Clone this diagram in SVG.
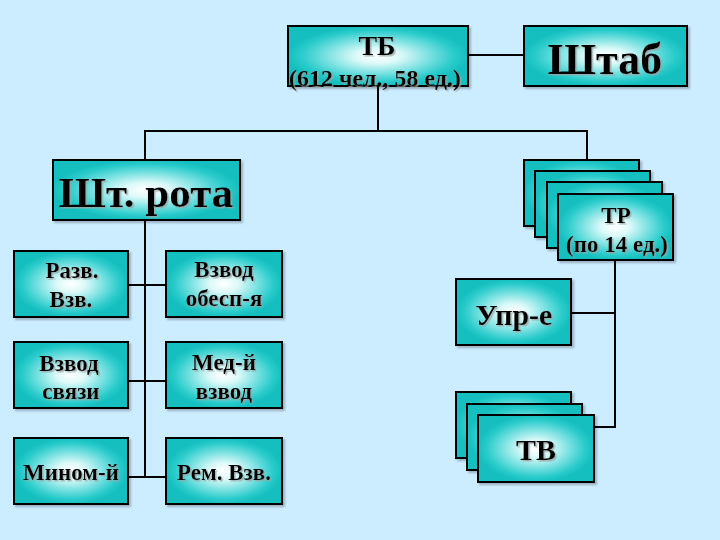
<svg xmlns="http://www.w3.org/2000/svg" width="720" height="540" viewBox="0 0 720 540">
<defs>
<radialGradient id="g" cx="0.5" cy="0.5" r="0.5">
<stop offset="0" stop-color="#FFFFFF"/>
<stop offset="0.25" stop-color="#DDF9F9"/>
<stop offset="0.6" stop-color="#72DFDF"/>
<stop offset="0.85" stop-color="#2ACBCB"/>
<stop offset="1" stop-color="#17BFBF"/>
</radialGradient>
<filter id="ts" x="-10%" y="-20%" width="130%" height="150%">
<feDropShadow dx="1.5" dy="1.5" stdDeviation="0" flood-color="#9aa6a6" flood-opacity="0.8"/>
</filter>
<filter id="bs" x="-5%" y="-5%" width="115%" height="120%">
<feDropShadow dx="2" dy="2" stdDeviation="1" flood-color="#000" flood-opacity="0.25"/>
</filter>
</defs>
<style>
.box{fill:url(#g);stroke:#000;stroke-width:2;filter:url(#bs)}
.t{font-family:"Liberation Serif","Times New Roman",serif;font-weight:bold;fill:#000;text-anchor:middle;filter:url(#ts)}
.s{font-size:23px}
.c{stroke:#000;stroke-width:2;fill:none}
</style>
<rect width="720" height="540" fill="#CCECFF"/>
<g id="connectors">
<line class="c" x1="468" y1="55" x2="524" y2="55"/>
<line class="c" x1="378" y1="86" x2="378" y2="131"/>
<line class="c" x1="144" y1="131" x2="588" y2="131"/>
<line class="c" x1="145" y1="131" x2="145" y2="160"/>
<line class="c" x1="587" y1="131" x2="587" y2="159"/>
<line class="c" x1="145" y1="220" x2="145" y2="478"/>
<line class="c" x1="128" y1="285" x2="166" y2="285"/>
<line class="c" x1="128" y1="381" x2="166" y2="381"/>
<line class="c" x1="128" y1="477" x2="166" y2="477"/>
<line class="c" x1="615" y1="260" x2="615" y2="428"/>
<line class="c" x1="571" y1="313" x2="615" y2="313"/>
<line class="c" x1="594" y1="427" x2="615" y2="427"/>
</g>
<g id="tb">
<rect class="box" x="288" y="26" width="180" height="60"/>
<text class="t" x="377" y="55" font-size="28">ТБ</text>
<text class="t" x="375" y="86" font-size="24">(612 чел., 58 ед.)</text>
</g>
<g id="shtab">
<rect class="box" x="524" y="26" width="163" height="60"/>
<text class="t" x="605" y="74" font-size="44">Штаб</text>
</g>
<g id="sht-rota">
<rect class="box" x="53" y="160" width="187" height="60"/>
<text class="t" x="146" y="207" font-size="43">Шт. рота</text>
</g>
<g id="razv">
<rect class="box" x="14" y="251" width="114" height="66"/>
<text class="t s" x="72" y="278">Разв.</text>
<text class="t s" x="71" y="307">Взв.</text>
</g>
<g id="obesp">
<rect class="box" x="166" y="251" width="116" height="66"/>
<text class="t s" x="224" y="277">Взвод</text>
<text class="t s" x="224" y="306">обесп-я</text>
</g>
<g id="svyazi">
<rect class="box" x="14" y="342" width="114" height="66"/>
<text class="t s" x="69" y="371">Взвод</text>
<text class="t s" x="71" y="399">связи</text>
</g>
<g id="med">
<rect class="box" x="166" y="342" width="116" height="66"/>
<text class="t s" x="224" y="370">Мед-й</text>
<text class="t s" x="224" y="399">взвод</text>
</g>
<g id="minom">
<rect class="box" x="14" y="438" width="114" height="66"/>
<text class="t s" x="71" y="480">Мином-й</text>
</g>
<g id="rem">
<rect class="box" x="166" y="438" width="116" height="66"/>
<text class="t s" x="224" y="480">Рем. Взв.</text>
</g>
<g id="tr">
<rect class="box" x="524" y="160" width="115" height="66"/>
<rect class="box" x="535" y="171" width="115" height="66"/>
<rect class="box" x="547" y="182" width="115" height="66"/>
<rect class="box" x="558" y="194" width="115" height="66"/>
<text class="t s" x="616" y="223">ТР</text>
<text class="t s" x="617" y="252">(по 14 ед.)</text>
</g>
<g id="upr">
<rect class="box" x="456" y="279" width="115" height="66"/>
<text class="t" x="514" y="325" font-size="30">Упр-е</text>
</g>
<g id="tv">
<rect class="box" x="456" y="392" width="115" height="66"/>
<rect class="box" x="467" y="404" width="115" height="66"/>
<rect class="box" x="478" y="415" width="116" height="67"/>
<text class="t" x="536" y="460" font-size="30">ТВ</text>
</g>
</svg>
